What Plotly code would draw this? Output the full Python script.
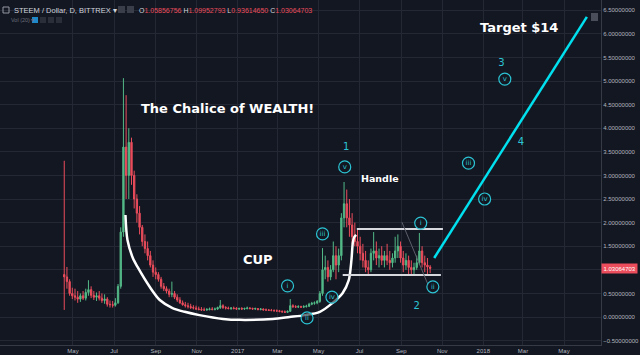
import plotly.graph_objects as go
import pandas as pd

# ---------------- data (4-day candles) ----------------
candle_start = "2016-04-18"
first_open = 0.90
close = [0.85, 0.75, 0.5, 0.45, 0.42, 0.38, 0.45, 0.4, 0.52, 0.58,
         0.46, 0.42, 0.45, 0.4, 0.35, 0.38, 0.27, 0.26, 0.25, 0.3,
         0.65, 1.8, 3.6, 3.0, 3.7, 3.0, 2.5, 2.2, 1.9, 1.6,
         1.45, 1.3, 1.1, 0.95, 0.9, 0.8, 0.65, 0.6, 0.55, 0.48,
         0.5, 0.42, 0.36, 0.3, 0.26, 0.24, 0.22, 0.2, 0.19, 0.17,
         0.16, 0.15, 0.15, 0.16, 0.17, 0.16, 0.17, 0.2, 0.24, 0.2,
         0.19, 0.18, 0.19, 0.18, 0.17, 0.18, 0.17, 0.18, 0.19, 0.18,
         0.17, 0.18, 0.16, 0.17, 0.15, 0.15, 0.14, 0.14, 0.13, 0.13,
         0.12, 0.11, 0.10, 0.12, 0.24, 0.22, 0.21, 0.22, 0.21, 0.22,
         0.23, 0.27, 0.29, 0.30, 0.33, 0.50, 1.0, 1.05, 0.85, 1.0,
         1.3, 1.1, 1.3, 2.1, 2.4, 2.1, 1.95, 1.7, 1.6, 1.5,
         1.35, 1.2, 1.05, 1.0, 1.35, 1.4, 1.25, 1.3, 1.2, 1.3,
         1.2, 1.15, 1.25, 1.4, 1.5, 1.25, 1.1, 1.2, 1.05, 1.0,
         1.05, 1.15, 1.4, 1.15, 1.1, 1.06, 1.03]
high = [3.31, 1.06, 0.8, 0.62, 0.6, 0.55, 0.5, 0.55, 0.6, 0.78,
        0.65, 0.55, 0.52, 0.55, 0.5, 0.48, 0.42, 0.35, 0.34, 0.4,
        0.7, 1.9, 5.06, 4.7, 4.0, 3.8, 3.1, 2.6, 2.35, 1.95,
        1.75, 1.6, 1.4, 1.2, 1.05, 0.95, 0.85, 0.72, 0.65, 0.6,
        0.75, 0.55, 0.48, 0.42, 0.35, 0.32, 0.3, 0.28, 0.25, 0.24,
        0.22, 0.21, 0.2, 0.19, 0.2, 0.21, 0.2, 0.22, 0.36, 0.27,
        0.23, 0.22, 0.21, 0.22, 0.21, 0.2, 0.21, 0.2, 0.22, 0.21,
        0.2, 0.2, 0.19, 0.19, 0.18, 0.18, 0.17, 0.17, 0.16, 0.16,
        0.15, 0.14, 0.14, 0.14, 0.38, 0.27, 0.25, 0.25, 0.24, 0.25,
        0.26, 0.3, 0.32, 0.33, 0.36, 0.55, 1.46, 1.3, 1.2, 1.1,
        1.6, 1.5, 1.45, 2.2, 2.86, 2.7, 2.5, 2.2, 2.0, 1.85,
        1.7, 1.55, 1.4, 1.2, 1.45, 1.8, 1.6, 1.45, 1.5, 1.4,
        1.55, 1.4, 1.35, 1.7, 1.75, 1.6, 1.4, 1.35, 1.3, 1.2,
        1.15, 1.3, 1.78, 1.5, 1.3, 1.25, 1.1]
low = [0.15, 0.6, 0.45, 0.38, 0.35, 0.3, 0.32, 0.36, 0.35, 0.45,
       0.4, 0.36, 0.34, 0.35, 0.3, 0.28, 0.22, 0.2, 0.2, 0.22,
       0.28, 0.6, 1.7, 2.5, 2.5, 2.8, 2.3, 2.0, 1.75, 1.5,
       1.35, 1.2, 1.05, 0.85, 0.8, 0.75, 0.6, 0.55, 0.5, 0.42,
       0.42, 0.38, 0.32, 0.28, 0.24, 0.2, 0.18, 0.17, 0.16, 0.15,
       0.14, 0.13, 0.13, 0.13, 0.14, 0.14, 0.14, 0.15, 0.17, 0.17,
       0.16, 0.16, 0.15, 0.16, 0.15, 0.15, 0.15, 0.15, 0.16, 0.16,
       0.15, 0.15, 0.14, 0.14, 0.14, 0.13, 0.13, 0.12, 0.12, 0.11,
       0.1, 0.09, 0.09, 0.09, 0.11, 0.19, 0.19, 0.19, 0.19, 0.19,
       0.2, 0.21, 0.25, 0.26, 0.27, 0.3, 0.45, 0.8, 0.75, 0.78,
       0.95, 0.8, 0.95, 1.2, 1.9, 1.9, 1.7, 1.55, 1.5, 1.35,
       1.2, 1.05, 0.95, 0.89, 0.95, 1.2, 1.1, 1.05, 1.1, 1.05,
       1.1, 1.0, 1.05, 1.15, 1.25, 1.15, 0.95, 1.0, 0.9, 0.88,
       0.9, 1.0, 1.1, 1.05, 0.95, 0.9, 0.93]

tick_dates = ["2016-05-01", "2016-07-01", "2016-09-01", "2016-11-01", "2017-01-01",
              "2017-03-01", "2017-05-01", "2017-07-01", "2017-09-01", "2017-11-01",
              "2018-01-01", "2018-03-01", "2018-05-01"]
tick_text = ["May", "Jul", "Sep", "Nov", "2017", "Mar", "May", "Jul", "Sep", "Nov",
             "2018", "Mar", "May"]

# drawings on the chart (date, price)
cup_dates = ["2016-07-18", "2016-07-21", "2016-07-29", "2016-08-05", "2016-08-23",
             "2016-09-07", "2016-09-26", "2016-10-14", "2016-11-05", "2016-12-10",
             "2017-01-04", "2017-02-22", "2017-03-19", "2017-04-11", "2017-05-03",
             "2017-05-22", "2017-06-06", "2017-06-15", "2017-06-19", "2017-06-21",
             "2017-06-23", "2017-06-26"]
cup_prices = [2.16, 1.63, 1.25, 1.06, 0.64, 0.36, 0.19, 0.11, 0.04, -0.04,
              -0.06, -0.04, 0.0, 0.04, 0.11, 0.30, 0.51, 0.78, 1.21, 1.57,
              1.69, 1.74]
handle_top = (["2017-06-27", "2017-11-02"], [1.864, 1.864])
handle_bottom = (["2017-06-06", "2017-10-30"], [0.89, 0.89])
trend_line = (["2017-09-02", "2017-10-11"], [2.01, 0.68])
target_line = (["2017-10-20", "2018-06-04"], [1.25, 6.36])

wave_circle_dates = ["2017-03-16", "2017-04-14", "2017-05-07", "2017-05-21", "2017-06-09",
                     "2017-09-30", "2017-10-18", "2017-12-10", "2018-01-03", "2018-02-02"]
wave_circle_prices = [0.66, -0.02, 1.76, 0.42, 3.18, 1.99, 0.64, 3.26, 2.5, 5.04]
wave_circle_text = ["i", "ii", "iii", "iv", "v", "i", "ii", "iii", "iv", "v"]

wave_num_dates = ["2017-06-11", "2017-09-24", "2018-01-28", "2018-02-26"]
wave_num_prices = [3.6, 0.23, 5.38, 3.69]
wave_num_text = ["1", "2", "3", "4"]

last_price = 1.03064703

# ---------------- figure ----------------
BG = "#131722"
GRID = "#242835"
UP = "#53b987"
DOWN = "#eb4d5c"
CYAN = "#00e0ee"
TEAL = "#2cc4d4"

dates = pd.date_range(candle_start, periods=len(close), freq="4D")
opens = [first_open] + close[:-1]

fig = go.Figure()
fig.add_trace(go.Candlestick(
    x=dates, open=opens, high=high, low=low, close=close,
    increasing=dict(line=dict(color=UP, width=1), fillcolor=UP),
    decreasing=dict(line=dict(color=DOWN, width=1), fillcolor=DOWN),
    whiskerwidth=0, hoverinfo="skip", showlegend=False))

fig.add_trace(go.Scatter(x=cup_dates, y=cup_prices, mode="lines",
                         line=dict(color="white", width=2.5, shape="spline", smoothing=0.8),
                         hoverinfo="skip", showlegend=False))
for seg in (handle_top, handle_bottom):
    fig.add_trace(go.Scatter(x=seg[0], y=seg[1], mode="lines",
                             line=dict(color="#d6d8de", width=2),
                             hoverinfo="skip", showlegend=False))
fig.add_trace(go.Scatter(x=trend_line[0], y=trend_line[1], mode="lines",
                         line=dict(color="#5d606b", width=1),
                         hoverinfo="skip", showlegend=False))
fig.add_trace(go.Scatter(x=target_line[0], y=target_line[1], mode="lines",
                         line=dict(color=CYAN, width=2.5),
                         hoverinfo="skip", showlegend=False))

fig.add_trace(go.Scatter(x=wave_circle_dates, y=wave_circle_prices, mode="markers+text",
                         text=wave_circle_text, textposition="middle center",
                         textfont=dict(color=TEAL, size=7, family="DejaVu Sans"),
                         marker=dict(symbol="circle", size=12, color="rgba(19,23,34,0.6)",
                                     line=dict(color=TEAL, width=1.2)),
                         hoverinfo="skip", showlegend=False))
fig.add_trace(go.Scatter(x=wave_num_dates, y=wave_num_prices, mode="text",
                         text=wave_num_text, textposition="middle center",
                         textfont=dict(color=TEAL, size=10, family="DejaVu Sans"),
                         hoverinfo="skip", showlegend=False))

notes = [
    ("2016-12-17", 4.41, "<b>The Chalice of WEALTH!</b>", 13),
    ("2017-01-31", 1.21, "<b>CUP</b>", 13),
    ("2017-07-31", 2.94, "<b>Handle</b>", 9.5),
    ("2018-02-23", 6.14, "<b>Target $14</b>", 13),
]
for xd, yp, txt, sz in notes:
    fig.add_annotation(x=xd, y=yp, xref="x", yref="y", text=txt, showarrow=False,
                       font=dict(color="white", size=sz, family="DejaVu Sans"),
                       xanchor="center", yanchor="middle")

# header
fig.add_annotation(xref="paper", yref="paper", x=12 / 601, y=1 - 10 / 345,
                   xanchor="left", yanchor="middle", showarrow=False,
                   text="STEEM / Dollar, D, BITTREX ▾",
                   font=dict(color="#d1d4dc", size=7.5, family="Liberation Sans"))
ohlc = ("O<span style='color:%s'>1.05856756</span> H<span style='color:%s'>1.09952793</span> "
        "L<span style='color:%s'>0.93614650</span> C<span style='color:%s'>1.03064703</span>") % (
        DOWN, DOWN, DOWN, DOWN)
fig.add_annotation(xref="paper", yref="paper", x=137 / 601, y=1 - 10 / 345,
                   xanchor="left", yanchor="middle", showarrow=False, text=ohlc,
                   font=dict(color="#d1d4dc", size=7, family="Liberation Sans"))
fig.add_annotation(xref="paper", yref="paper", x=9 / 601, y=1 - 20 / 345,
                   xanchor="left", yanchor="middle", showarrow=False, text="Vol (20) ▾",
                   font=dict(color="#6a6d78", size=5.5, family="Liberation Sans"))

# last price label
fig.add_annotation(xref="paper", yref="y", x=1.0, y=last_price, xanchor="left",
                   yanchor="middle", showarrow=False, text="1.03064703",
                   font=dict(color="white", size=6, family="Liberation Sans"),
                   bgcolor=DOWN, borderpad=1.5)

shapes = []
def px_rect(x0, y0, x1, y1, color, line=None):
    shapes.append(dict(type="rect", xref="paper", yref="paper",
                       x0=x0 / 601, x1=x1 / 601, y0=1 - y1 / 345, y1=1 - y0 / 345,
                       fillcolor=color, line=dict(width=0 if line is None else 1,
                                                   color=line or color), layer="above"))
px_rect(3, 7, 9, 13, "rgba(0,0,0,0)", "#9598a1")
px_rect(118, 6, 125, 13, "#3a3e4a")
px_rect(127, 6, 134, 13, "#3a3e4a")
px_rect(32, 17, 38, 23, "#1e88c8")
px_rect(40, 17, 46, 23, "#2a2e39")
px_rect(48, 17, 54, 23, "#2a2e39")
px_rect(56, 17, 62, 23, "#2a2e39")
px_rect(591, 13, 598, 21, "#4a4e5a")
fig.update_layout(shapes=shapes)

fig.update_layout(
    width=640, height=355,
    margin=dict(l=0, r=39, t=0, b=10),
    paper_bgcolor=BG, plot_bgcolor=BG,
    showlegend=False,
    xaxis=dict(type="date", range=["2016-01-13 12:00", "2018-06-25"],
               rangeslider=dict(visible=False),
               tickvals=tick_dates, ticktext=tick_text,
               tickfont=dict(color="#b2b5be", size=6, family="Liberation Sans"),
               showgrid=True, gridcolor=GRID, gridwidth=1, zeroline=False,
               showline=True, linecolor="#363a45", linewidth=1, ticks=""),
    yaxis=dict(side="right", range=[-0.593, 6.716], dtick=0.5, tick0=0,
               tickformat=".8f",
               tickfont=dict(color="#b2b5be", size=6, family="Liberation Sans"),
               showgrid=True, gridcolor=GRID, gridwidth=1, zeroline=False,
               showline=True, linecolor="#363a45", linewidth=1, ticks="",
               mirror=False),
)

fig.write_html("out.html",
               config={"displayModeBar": False, "staticPlot": True},
               post_script="document.body.style.margin='0';"
                           "document.body.style.padding='0';"
                           "document.body.style.overflow='hidden';"
                           "document.body.style.background='#131722';")
